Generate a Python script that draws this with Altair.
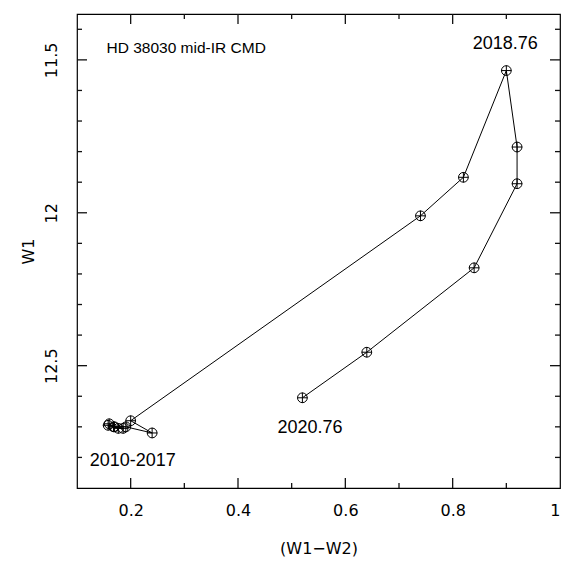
import altair as alt
import pandas as pd

# Sequence of epochs (2010-2017 cluster first, then outburst track)
w1w2 = [0.160, 0.168, 0.177, 0.170, 0.186, 0.158, 0.191, 0.240, 0.200,
        0.740, 0.820, 0.900, 0.920, 0.920, 0.840, 0.640, 0.520]
w1 = [12.690, 12.700, 12.705, 12.700, 12.705, 12.695, 12.700, 12.720, 12.680,
      12.010, 11.884, 11.535, 11.785, 11.905, 12.180, 12.456, 12.605]

title_text = ["HD 38030 mid-IR CMD"]
title_x = [0.155]
title_y = [11.46]

ep_text = ["2018.76", "2010-2017", "2020.76"]
ep_x = [0.898, 0.204, 0.534]
ep_y = [11.448, 12.812, 12.705]

x_labels = [0.2, 0.4, 0.6, 0.8, 1.0]
y_labels = [11.5, 12.0, 12.5]
x_major_ticks = [0.2, 0.4, 0.6, 0.8]
x_minor_ticks = [0.3, 0.5, 0.7, 0.9]
y_major_ticks = [11.5, 12.0, 12.5]
y_minor_ticks = [11.4, 11.6, 11.7, 11.8, 11.9, 12.1, 12.2, 12.3, 12.4, 12.6, 12.7, 12.8]

df = pd.DataFrame({"i": range(len(w1)), "c": w1w2, "m": w1})
tdf = pd.DataFrame({"t": title_text, "c": title_x, "m": title_y})
edf = pd.DataFrame({"t": ep_text, "c": ep_x, "m": ep_y})

W, H = 483, 474
MAJ, MIN = 10, 5
xs = alt.Scale(domain=[0.1, 1.0], zero=False, nice=False)
ys = alt.Scale(domain=[11.35, 12.9], zero=False, nice=False, reverse=True)

lab_font = "DejaVu Sans"

x_lab_axis = alt.Axis(values=x_labels, format="~g", orient="bottom", ticks=False,
                      domain=False, grid=False, labelFont=lab_font, labelFontSize=16,
                      labelColor="black", labelPadding=14, labelFlush=True,
                      title="(W1\u2212W2)", titleFont=lab_font, titleFontSize=16,
                      titleFontWeight="normal", titleColor="black", titlePadding=22)
y_lab_axis = alt.Axis(values=y_labels, format="~g", orient="left", ticks=False,
                      domain=False, grid=False, labelFont=lab_font, labelFontSize=16,
                      labelColor="black", labelAngle=270, labelAlign="center",
                      labelBaseline="bottom", labelPadding=18, labelFlush=False,
                      title="W1", titleFont=lab_font, titleFontSize=16, titleAngle=270,
                      titleFontWeight="normal", titleColor="black", titlePadding=7)

line = alt.Chart(df).mark_line(color="black", strokeWidth=1).encode(
    x=alt.X("c:Q", scale=xs, axis=x_lab_axis),
    y=alt.Y("m:Q", scale=ys, axis=y_lab_axis),
    order="i:Q",
)

circles = alt.Chart(df).mark_point(shape="circle", size=95, filled=False, color="black",
                                   strokeWidth=1, opacity=1).encode(
    x=alt.X("c:Q", scale=xs),
    y=alt.Y("m:Q", scale=ys),
)

plus = alt.Chart(df).mark_point(shape="M-1,0L1,0M0,-1L0,1", size=110, filled=False,
                                color="black", strokeWidth=1, opacity=1).encode(
    x=alt.X("c:Q", scale=xs),
    y=alt.Y("m:Q", scale=ys),
)


def x_ticks_at(values, edge, length):
    inner = edge + length if edge == 0 else edge - length
    d = pd.DataFrame({"tx": values})
    return alt.Chart(d).mark_rule(color="#111111", strokeWidth=1.3).encode(
        x=alt.X("tx:Q", scale=xs), y=alt.value(edge), y2=alt.value(inner))


def y_ticks_at(values, edge, length):
    inner = edge + length if edge == 0 else edge - length
    d = pd.DataFrame({"ty": values})
    return alt.Chart(d).mark_rule(color="#111111", strokeWidth=1.3).encode(
        y=alt.Y("ty:Q", scale=ys), x=alt.value(edge), x2=alt.value(inner))


tick_layers = [
    x_ticks_at(x_major_ticks, 0, MAJ), x_ticks_at(x_minor_ticks, 0, MIN),
    x_ticks_at(x_major_ticks, H, MAJ), x_ticks_at(x_minor_ticks, H, MIN),
    y_ticks_at(y_major_ticks, 0, MAJ), y_ticks_at(y_minor_ticks, 0, MIN),
    y_ticks_at(y_major_ticks, W, MAJ), y_ticks_at(y_minor_ticks, W, MIN),
]

title_lbl = alt.Chart(tdf).mark_text(font="Liberation Sans", fontSize=15.5, color="black",
                                     align="left", baseline="middle").encode(
    x=alt.X("c:Q", scale=xs),
    y=alt.Y("m:Q", scale=ys),
    text="t:N",
)

ep_lbl = alt.Chart(edf).mark_text(font="Liberation Sans", fontSize=18, color="black",
                                  align="center", baseline="middle").encode(
    x=alt.X("c:Q", scale=xs),
    y=alt.Y("m:Q", scale=ys),
    text="t:N",
)

chart = alt.layer(line, circles, plus, title_lbl, ep_lbl, *tick_layers).properties(
    width=W, height=H,
    background="white",
    autosize=alt.AutoSizeParams(type="none"),
    padding={"left": 69, "top": 6, "right": 4, "bottom": 70},
).configure_view(stroke="black", strokeWidth=1.2)

chart.save("out.html", embed_options={"renderer": "svg", "actions": False})
